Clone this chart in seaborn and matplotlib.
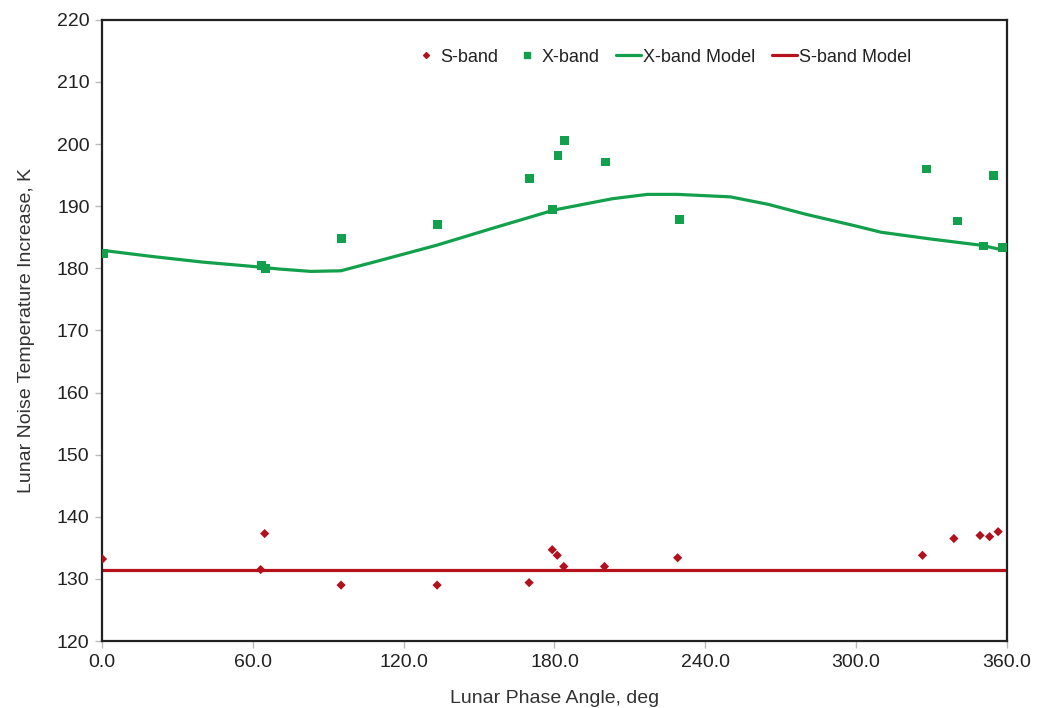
import matplotlib
matplotlib.use("Agg")
import matplotlib.pyplot as plt
import seaborn as sns
import pandas as pd
from matplotlib.lines import Line2D

# ---- data ----
x_band_angle = [0.5, 63.3, 64.9, 95.2, 133.4, 170.0, 179.3, 181.4, 183.9, 200.4,
                229.8, 327.9, 340.4, 354.8, 350.8, 358.1]
x_band_temp = [182.4, 180.4, 180.0, 184.8, 187.0, 194.4, 189.5, 198.1, 200.6, 197.1,
               187.8, 196.0, 187.6, 195.0, 183.6, 183.4]

s_band_angle = [0.2, 63.1, 64.7, 95.1, 133.3, 169.9, 179.1, 181.1, 183.7, 199.9,
                229.0, 326.4, 338.9, 349.3, 353.1, 356.5]
s_band_temp = [133.2, 131.5, 137.3, 129.0, 129.0, 129.4, 134.7, 133.8, 132.0, 132.0,
               133.4, 133.8, 136.5, 137.0, 136.8, 137.6]

x_model_angle = [0, 20, 40, 60, 70, 83, 95, 110, 133, 155, 180, 203, 217, 229, 250,
                 265, 280, 300, 310, 330, 350, 360]
x_model_temp = [182.9, 181.9, 181.0, 180.3, 179.9, 179.5, 179.6, 181.2, 183.7, 186.4,
                189.4, 191.2, 191.9, 191.9, 191.5, 190.3, 188.7, 186.8, 185.8, 184.7,
                183.7, 182.8]

s_model_angle = [0, 360]
s_model_temp = [131.5, 131.5]

x_ticks = [0, 60, 120, 180, 240, 300, 360]
x_tick_labels = ["0.0", "60.0", "120.0", "180.0", "240.0", "300.0", "360.0"]
y_ticks = [120, 130, 140, 150, 160, 170, 180, 190, 200, 210, 220]

GREEN = "#13a04c"
RED = "#b5121b"
SRED = "#b3101e"

sns.set_style("white")
plt.rcParams["font.family"] = ["Liberation Sans", "DejaVu Sans"]

fig = plt.figure(figsize=(10.37, 7.08), dpi=100)
ax = fig.add_axes([0.0984, 0.0946, 0.8726, 0.8774])

sns.lineplot(x=x_model_angle, y=x_model_temp, ax=ax, color=GREEN, linewidth=2.3,
             sort=True, estimator=None, zorder=2)
sns.lineplot(x=s_model_angle, y=s_model_temp, ax=ax, color=RED, linewidth=2.3,
             estimator=None, zorder=2)
sns.scatterplot(x=x_band_angle, y=x_band_temp, ax=ax, marker="s", s=40, color=GREEN,
                edgecolor="none", zorder=3)
sns.scatterplot(x=s_band_angle, y=s_band_temp, ax=ax, marker="D", s=22, color=SRED,
                edgecolor="none", zorder=3)

ax.set_xlim(0, 360)
ax.set_ylim(120, 220)
ax.set_xticks(x_ticks)
ax.set_xticklabels(x_tick_labels)
ax.set_yticks(y_ticks)

for sp in ax.spines.values():
    sp.set_visible(True)
    sp.set_color("#222222")
    sp.set_linewidth(1.6)

ax.tick_params(axis="both", which="major", direction="out", length=5, width=1,
               color="#bbbbbb", labelsize=14, labelcolor="#222222", pad=4,
               bottom=True, left=True)

ax.set_xlabel("Lunar Phase Angle, deg", fontsize=14, color="#333333", labelpad=14)
ax.set_ylabel("Lunar Noise Temperature Increase, K", fontsize=14, color="#333333",
              labelpad=16)

handles = [
    Line2D([], [], linestyle="none", marker="D", markersize=3, color=SRED),
    Line2D([], [], linestyle="none", marker="s", markersize=5, color=GREEN),
    Line2D([], [], color=GREEN, linewidth=2.3),
    Line2D([], [], color=RED, linewidth=2.3),
]
labels = ["S-band", "X-band", "X-band Model", "S-band Model"]
ax.legend(handles, labels, loc="center", bbox_to_anchor=(0.619, 0.94), ncol=4,
          frameon=False, fontsize=13, handlelength=1.4, handletextpad=0.1,
          columnspacing=0.9, labelcolor="#222222")

fig.savefig("out.png", dpi=100)
